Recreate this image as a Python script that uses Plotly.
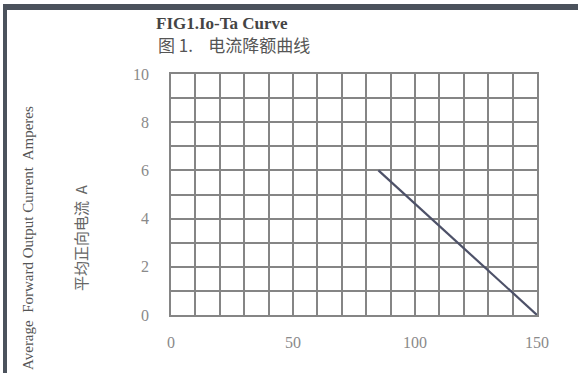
import plotly.graph_objects as go

# Data
temp_c = [85, 150]          # ambient temperature Ta (°C)
current_a = [6, 0]          # average forward output current Io (A)
x_tick_vals = [0, 50, 100, 150]
x_tick_text = ["0", "50", "100", "150"]
y_tick_vals = [0, 2, 4, 6, 8, 10]
y_tick_text = ["0", "2", "4", "6", "8", "10"]

W, H = 579, 373
L, R, T, B = 171, 42, 74, 58
PW, PH = W - L - R, H - T - B

def px(xp):
    return (xp - L) / PW

def py(yp):
    return (H - B - yp) / PH

grid_c = "#858585"
serif = "Liberation Serif, DejaVu Serif, serif"

fig = go.Figure()
fig.add_trace(go.Scatter(
    x=temp_c, y=current_a, mode="lines",
    line=dict(color="#4d5168", width=2.2),
    showlegend=False, hoverinfo="skip"))

fig.update_layout(
    width=W, height=H,
    margin=dict(l=L, r=R, t=T, b=B),
    paper_bgcolor="white", plot_bgcolor="white",
    font=dict(family=serif, color="#888"),
    xaxis=dict(range=[0, 150], tickvals=x_tick_vals, ticktext=x_tick_text,
               showgrid=True, gridcolor=grid_c, gridwidth=1.5,
               minor=dict(dtick=10, showgrid=True, gridcolor=grid_c, gridwidth=1.5),
               showline=True, linecolor=grid_c, linewidth=1.5, mirror=True,
               zeroline=False, ticks="", ticklabelstandoff=12,
               tickfont=dict(family=serif, size=16, color="#8a8a8a")),
    yaxis=dict(range=[0, 10], tickvals=y_tick_vals, ticktext=y_tick_text,
               showgrid=True, gridcolor=grid_c, gridwidth=1.5,
               minor=dict(dtick=1, showgrid=True, gridcolor=grid_c, gridwidth=1.5),
               showline=True, linecolor=grid_c, linewidth=1.5, mirror=True,
               zeroline=False, ticks="", ticklabelstandoff=17,
               tickfont=dict(family=serif, size=16, color="#8a8a8a")),
)

# frame of the scanned picture
frame_c = "#4b525c"
fig.add_shape(type="rect", xref="paper", yref="paper",
              x0=px(3), x1=px(578), y0=py(10), y1=py(4),
              fillcolor=frame_c, line=dict(width=0), layer="above")
fig.add_shape(type="rect", xref="paper", yref="paper",
              x0=px(3), x1=px(7), y0=py(H), y1=py(5),
              fillcolor=frame_c, line=dict(width=0), layer="above")

fig.add_annotation(text="<b>FIG1.Io-Ta Curve</b>", xref="paper", yref="paper",
                   x=px(154), y=py(23), xanchor="left", yanchor="middle",
                   showarrow=False, font=dict(family=serif, size=17, color="#444"))
fig.add_annotation(text="图 1.    电流降额曲线", xref="paper", yref="paper",
                   x=px(156), y=py(44), xanchor="left", yanchor="middle",
                   showarrow=False,
                   font=dict(family="Noto Sans CJK SC", size=17, color="#555"))
fig.add_annotation(text="Average  Forward Output Current  Amperes",
                   xref="paper", yref="paper", x=px(28), y=py(238),
                   xanchor="center", yanchor="middle", textangle=-90,
                   showarrow=False, font=dict(family=serif, size=15, color="#555"))
fig.add_annotation(text="平均正向电流  A",
                   xref="paper", yref="paper", x=px(80), y=py(238),
                   xanchor="center", yanchor="middle", textangle=-90,
                   showarrow=False,
                   font=dict(family="Noto Sans CJK SC", size=15, color="#666"))

fig.write_html("out.html", config={"displayModeBar": False},
               post_script="document.body.style.margin='0px';document.body.style.overflow='hidden';window.scrollTo(0,0);")
